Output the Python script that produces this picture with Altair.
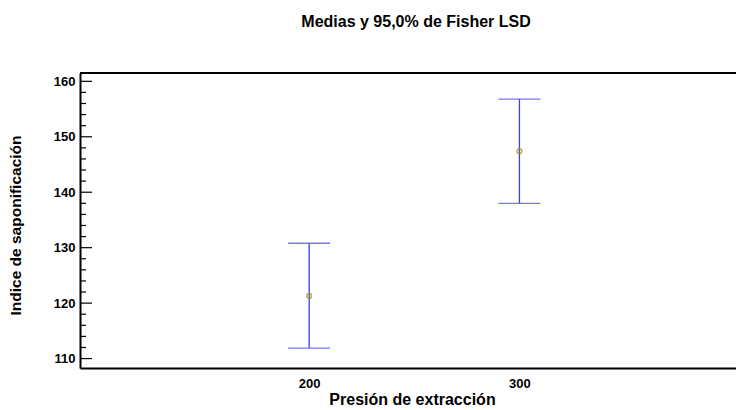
import altair as alt
import pandas as pd

# ---- data ----
presion = [200, 300]
medias = [121.3, 147.4]
inferior = [111.9, 138.0]
superior = [130.8, 156.8]

x_tick_values = [200, 300]
y_major = [110, 120, 130, 140, 150, 160]
y_minor = [112, 114, 116, 118, 122, 124, 126, 128, 132, 134, 136, 138,
           142, 144, 146, 148, 152, 154, 156, 158]

FONT = "Liberation Sans"
W, H = 656, 295

df = pd.DataFrame({"presion": presion, "media": medias,
                   "lo": inferior, "hi": superior})
df_major = pd.DataFrame({"v": y_major})
df_minor = pd.DataFrame({"v": y_minor})
df_one = pd.DataFrame({"k": [0]})

xs = alt.Scale(domain=[91, 403], nice=False, zero=False)
ys = alt.Scale(domain=[108.3, 161.5], nice=False, zero=False)

x_axis = alt.Axis(values=x_tick_values, title="Presión de extracción", grid=False,
                  ticks=False, domainColor="black", domainWidth=2,
                  labelFont=FONT, labelFontSize=13, labelFontWeight="bold",
                  labelColor="black", labelPadding=9,
                  titleFont=FONT, titleFontSize=16, titleFontWeight="bold",
                  titleColor="black", titlePadding=1, titleX=332, format="d")
y_axis = alt.Axis(values=y_major, title="Indice de saponificación", grid=False,
                  ticks=False, domainColor="black", domainWidth=2,
                  labelFont=FONT, labelFontSize=13, labelFontWeight="bold",
                  labelColor="black", labelPadding=5,
                  titleFont=FONT, titleFontSize=15.5, titleFontWeight="bold",
                  titleColor="black", titlePadding=30, titleY=152, format="d")

BLUE = "#3c3cff"

bars = alt.Chart(df).mark_rule(color=BLUE, strokeWidth=1.3).encode(
    x=alt.X("presion:Q", scale=xs, axis=x_axis),
    y=alt.Y("lo:Q", scale=ys, axis=y_axis),
    y2="hi:Q",
)
caps_hi = alt.Chart(df).mark_tick(color=BLUE, orient="horizontal", size=42,
                                  thickness=1.3).encode(
    x=alt.X("presion:Q", scale=xs, axis=x_axis),
    y=alt.Y("hi:Q", scale=ys, axis=y_axis),
)
caps_lo = alt.Chart(df).mark_tick(color=BLUE, orient="horizontal", size=42,
                                  thickness=1.3).encode(
    x=alt.X("presion:Q", scale=xs, axis=x_axis),
    y=alt.Y("lo:Q", scale=ys, axis=y_axis),
)
points = alt.Chart(df).mark_point(shape="circle", size=22, filled=False,
                                  stroke="#9c9200", strokeWidth=1.5).encode(
    x=alt.X("presion:Q", scale=xs, axis=x_axis),
    y=alt.Y("media:Q", scale=ys, axis=y_axis),
)
major_ticks = alt.Chart(df_major).mark_rule(color="black", strokeWidth=1.2).encode(
    y=alt.Y("v:Q", scale=ys, axis=y_axis),
    x=alt.value(0), x2=alt.value(12),
)
minor_ticks = alt.Chart(df_minor).mark_rule(color="black", strokeWidth=1.2).encode(
    y=alt.Y("v:Q", scale=ys, axis=y_axis),
    x=alt.value(0), x2=alt.value(6),
)
top_border = alt.Chart(df_one).mark_rule(color="black", strokeWidth=2).encode(
    x=alt.value(0), x2=alt.value(W), y=alt.value(0),
)

chart = alt.layer(
    bars, caps_hi, caps_lo, points, major_ticks, minor_ticks, top_border
).properties(
    width=W, height=H,
    padding={"left": 80, "top": 73, "right": 0, "bottom": 42},
    autosize=alt.AutoSizeParams(type="none"),
    title=alt.TitleParams("Medias y 95,0% de Fisher LSD", font=FONT, fontSize=16,
                          fontWeight="bold", color="black", anchor="middle",
                          offset=42, dx=8),
).configure_view(stroke=None).configure(background="white")

chart.save("out.html", embed_options={"renderer": "svg", "actions": False})
